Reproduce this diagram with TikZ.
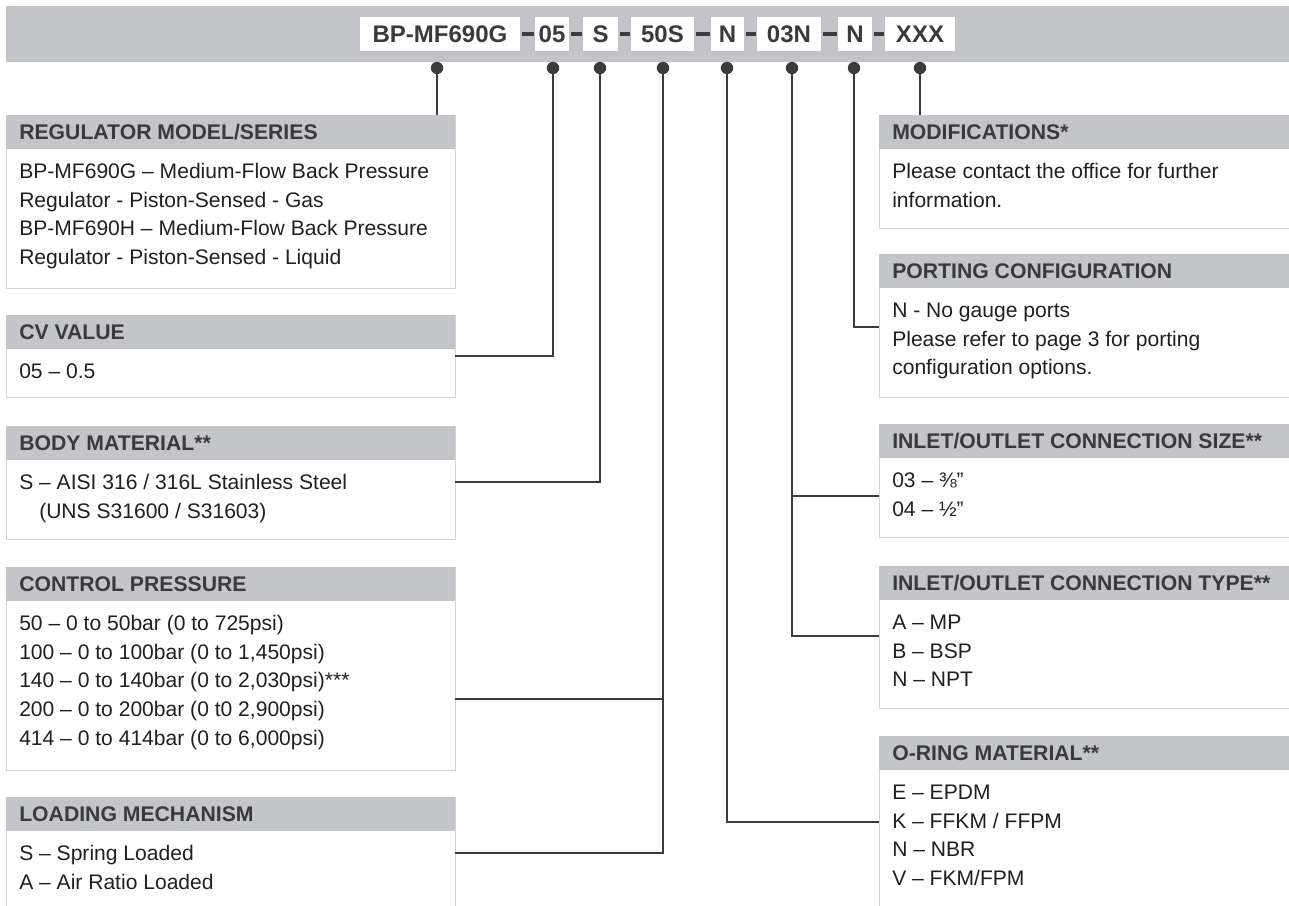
\documentclass[tikz,border=0pt]{standalone}
\usepackage{fontspec}
\setmainfont{Liberation Sans}
\definecolor{barcol}{HTML}{C3C4C7}
\definecolor{headcol}{HTML}{C4C5C8}
\definecolor{bordcol}{HTML}{D3D4D6}
\definecolor{darktxt}{HTML}{3A3A3C}
\definecolor{bodytxtcol}{HTML}{231F20}
\definecolor{linecol}{HTML}{3C3C3E}
\begin{document}
\begin{tikzpicture}[x=0.75pt,y=-0.75pt,
  codebox/.style={fill=white, minimum height=25.5pt, inner sep=0pt, text=darktxt,
    font=\fontsize{18}{20}\selectfont\bfseries},
  codedash/.style={draw=linecol, line width=2.4pt},
  dotmark/.style={circle, fill=linecol, inner sep=0pt, minimum size=9.3pt},
  conn/.style={draw=linecol, line width=0.8pt},
  boxbody/.style={draw=bordcol, line width=1.1pt, fill=white, anchor=north west, minimum width=336.75pt, inner sep=0pt},
  boxhead/.style={fill=headcol, anchor=north west, minimum width=336.75pt, minimum height=25.5pt, inner sep=0pt},
  headtxt/.style={anchor=base west, inner sep=0pt, text=darktxt, font=\fontsize{15.9}{18}\selectfont\bfseries},
  bodytxt/.style={anchor=base west, inner sep=0pt, text=bodytxtcol, font=\fontsize{15.8}{18}\selectfont}
]
\useasboundingbox (0,0) rectangle (1289,906);
\clip (0,0) rectangle (1289,906);
\fill[white] (0,0) rectangle (1289,906);
% top bar
\fill[barcol] (6,6) rectangle (1300,62);
% code boxes
\node[codebox, minimum width=120pt]   (cBP)  at (440,34)   {BP-MF690G};
\node[codebox, minimum width=25.5pt]  (c05)  at (552,34)   {05};
\node[codebox, minimum width=26.25pt] (cS)   at (600.5,34) {S};
\node[codebox, minimum width=47.25pt] (c50S) at (662.5,34) {50S};
\node[codebox, minimum width=24.75pt] (cN)   at (727.5,34) {N};
\node[codebox, minimum width=48pt]    (c03N) at (789,34)   {03N};
\node[codebox, minimum width=25.5pt]  (cNb)  at (855,34)   {N};
\node[codebox, minimum width=52.5pt]  (cX)   at (920,34)   {XXX};
% dashes
\foreach \a/\b in {cBP/c05, c05/cS, cS/c50S, c50S/cN, cN/c03N, c03N/cNb, cNb/cX}
  \draw[codedash] ([xshift=1.5pt]\a.east) -- ([xshift=-0.75pt]\b.west);

% ---------- left column ----------
% model
\node[boxbody, minimum height=129.75pt] (mBox) at (6,115) {};
\node[boxhead] (mHead) at (6,115) {};
\node[headtxt] (mT) at (19,139.5) {REGULATOR MODEL/SERIES};
\node[bodytxt] (m1) at (19,178.5) {BP-MF690G – Medium-Flow Back Pressure};
\node[bodytxt] (m2) at (19,207.2) {Regulator - Piston-Sensed - Gas};
\node[bodytxt] (m3) at (19,235.9) {BP-MF690H – Medium-Flow Back Pressure};
\node[bodytxt] (m4) at (19,264.6) {Regulator - Piston-Sensed - Liquid};
% CV
\node[boxbody, minimum height=61.5pt] (cvBox) at (6,315) {};
\node[boxhead] (cvHead) at (6,315) {};
\node[headtxt] (cvT) at (19,339.5) {CV VALUE};
\node[bodytxt] (cv1) at (19,378.5) {05 – 0.5};
% body material
\node[boxbody, minimum height=84.75pt] (bmBox) at (6,426) {};
\node[boxhead] (bmHead) at (6,426) {};
\node[headtxt] (bmT) at (19,450.5) {BODY MATERIAL**};
\node[bodytxt] (bm1) at (19,489.5) {S – AISI 316 / 316L Stainless Steel};
\node[bodytxt] (bm2) at (39,518.2) {(UNS S31600 / S31603)};
% control pressure
\node[boxbody, minimum height=152.25pt] (cpBox) at (6,567) {};
\node[boxhead] (cpHead) at (6,567) {};
\node[headtxt] (cpT) at (19,591.5) {CONTROL PRESSURE};
\node[bodytxt] (cp1) at (19,630.5) {50 – 0 to 50bar (0 to 725psi)};
\node[bodytxt] (cp2) at (19,659.2) {100 – 0 to 100bar (0 to 1,450psi)};
\node[bodytxt] (cp3) at (19,687.9) {140 – 0 to 140bar (0 to 2,030psi)***};
\node[bodytxt] (cp4) at (19,716.6) {200 – 0 to 200bar (0 t0 2,900psi)};
\node[bodytxt] (cp5) at (19,745.3) {414 – 0 to 414bar (0 to 6,000psi)};
% loading mechanism
\node[boxbody, minimum height=120pt] (lmBox) at (6,797) {};
\node[boxhead] (lmHead) at (6,797) {};
\node[headtxt] (lmT) at (19,821.5) {LOADING MECHANISM};
\node[bodytxt] (lm1) at (19,860.5) {S – Spring Loaded};
\node[bodytxt] (lm2) at (19,889.2) {A – Air Ratio Loaded};

% ---------- right column ----------
\node[boxbody, minimum height=84.75pt] (moBox) at (879,115) {};
\node[boxhead] (moHead) at (879,115) {};
\node[headtxt] (moT) at (892,139.5) {MODIFICATIONS*};
\node[bodytxt] (mo1) at (892,178.5) {Please contact the office for further};
\node[bodytxt] (mo2) at (892,207.2) {information.};
\node[boxbody, minimum height=107.25pt] (pcBox) at (879,254) {};
\node[boxhead] (pcHead) at (879,254) {};
\node[headtxt] (pcT) at (892,278.5) {PORTING CONFIGURATION};
\node[bodytxt] (pc1) at (892,317.5) {N - No gauge ports};
\node[bodytxt] (pc2) at (892,346.2) {Please refer to page 3 for porting};
\node[bodytxt] (pc3) at (892,374.9) {configuration options.};
\node[boxbody, minimum height=84.75pt] (csBox) at (879,424) {};
\node[boxhead] (csHead) at (879,424) {};
\node[headtxt] (csT) at (892,448.5) {INLET/OUTLET CONNECTION SIZE**};
\node[bodytxt] (cs1) at (892,487.5) {03 – ⅜”};
\node[bodytxt] (cs2) at (892,516.2) {04 – ½”};
\node[boxbody, minimum height=106.5pt] (ctBox) at (879,566) {};
\node[boxhead] (ctHead) at (879,566) {};
\node[headtxt] (ctT) at (892,590.5) {INLET/OUTLET CONNECTION TYPE**};
\node[bodytxt] (ct1) at (892,629.5) {A – MP};
\node[bodytxt] (ct2) at (892,658.2) {B – BSP};
\node[bodytxt] (ct3) at (892,686.9) {N – NPT};
\node[boxbody, minimum height=150pt] (orBox) at (879,736) {};
\node[boxhead] (orHead) at (879,736) {};
\node[headtxt] (orT) at (892,760.5) {O-RING MATERIAL**};
\node[bodytxt] (or1) at (892,799.5) {E – EPDM};
\node[bodytxt] (or2) at (892,828.2) {K – FFKM / FFPM};
\node[bodytxt] (or3) at (892,856.9) {N – NBR};
\node[bodytxt] (or4) at (892,885.6) {V – FKM/FPM};

% ---------- dots ----------
\node[dotmark] (d1) at (437,68) {};
\node[dotmark] (d2) at (553,68) {};
\node[dotmark] (d3) at (600,68) {};
\node[dotmark] (d4) at (663,68) {};
\node[dotmark] (d5) at (727,68) {};
\node[dotmark] (d6) at (792,68) {};
\node[dotmark] (d7) at (854,68) {};
\node[dotmark] (d8) at (920,68) {};

% connector end points
\coordinate (cvA) at (455,356);
\coordinate (bmA) at (455,482);
\coordinate (cpA) at (455,699);
\coordinate (lmA) at (455,853);
\coordinate (orA) at (879,822);
\coordinate (ctA) at (879,636);
\coordinate (csA) at (879,496);
\coordinate (pcA) at (879,327);
\coordinate (j50) at (663,699);
\coordinate (j03) at (792,496);

% ---------- connectors ----------
\draw[conn] (d1.center) -- (d1.center |- mHead.north);
\draw[conn] (d2.center) |- (cvA);
\draw[conn] (d3.center) |- (bmA);
\draw[conn] (d4.center) |- (lmA);
\draw[conn] (j50) -- (cpA);
\draw[conn] (d5.center) |- (orA);
\draw[conn] (d6.center) |- (ctA);
\draw[conn] (j03) -- (csA);
\draw[conn] (d7.center) |- (pcA);
\draw[conn] (d8.center) -- (d8.center |- moHead.north);
\end{tikzpicture}
\end{document}
